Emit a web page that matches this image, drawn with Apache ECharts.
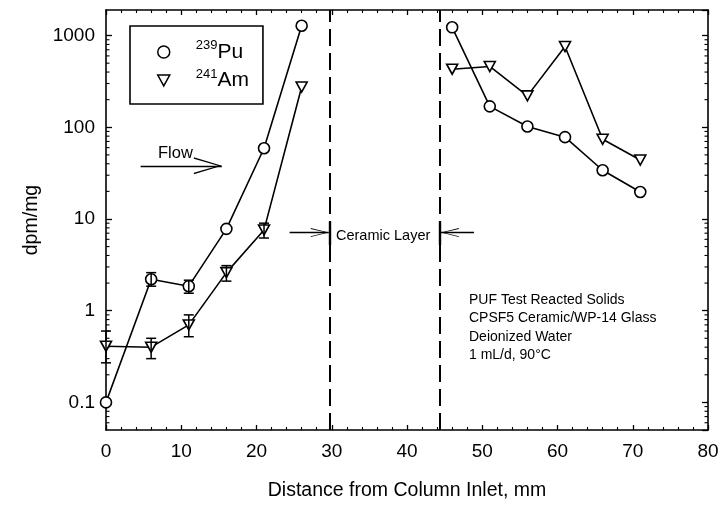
<!DOCTYPE html>
<html><head><meta charset="utf-8">
<script src="https://cdn.jsdelivr.net/npm/echarts@6/dist/echarts.min.js"></script>
<style>html,body{margin:0;padding:0;background:#fff}#c{width:726px;height:507px}</style>
</head><body><div id="c"></div>
<script>
// ---- data ----
const seriesNames = ['239Pu', '241Am'];
const puLeftX  = [0, 6, 11, 16, 21, 26];
const puLeftY  = [0.1, 2.2, 1.85, 7.8, 59, 1280];
const amLeftX  = [0, 6, 11, 16, 21, 26];
const amLeftY  = [0.41, 0.40, 0.70, 2.6, 7.6, 275];
const puRightX = [46, 51, 56, 61, 66, 71];
const puRightY = [1230, 169, 102, 78, 34, 19.7];
const amRightX = [46, 51, 56, 61, 66, 71];
const amRightY = [430, 460, 220, 760, 74, 44];
// error bars
const amErrX    = [0, 6, 11, 16, 21];
const amErrLow  = [0.27, 0.30, 0.52, 2.1, 6.2];
const amErrHigh = [0.60, 0.50, 0.90, 3.1, 9.0];
const puErrX    = [6, 11];
const puErrLow  = [1.85, 1.55];
const puErrHigh = [2.6, 2.15];
// ceramic layer boundaries (mm)
const ceramicBounds = [29.8, 44.3];
// tick labels
const xTickLabels = ['0','10','20','30','40','50','60','70','80'];
const yTickLabels = ['0.1','1','10','100','1000'];
const yMinorMultipliers = [2, 3, 4, 5, 6, 7, 8, 9];
const yDecades = [0.01, 0.1, 1, 10, 100, 1000];
const noteLines = ['PUF Test Reacted Solids','CPSF5 Ceramic/WP-14 Glass','Deionized Water','1 mL/d, 90°C'];

const FONT = '"Liberation Sans", Arial, sans-serif';
const Y_MIN = 0.05, Y_MAX = 1900;
const GAP_X = (puLeftX[puLeftX.length-1] + puRightX[0]) / 2;

function joinSeg(lx, ly, rx, ry) {
  const d = lx.map((x, i) => [x, ly[i]]);
  d.push([GAP_X, '-']);
  rx.forEach((x, i) => d.push([x, ry[i]]));
  return d;
}
const puData = joinSeg(puLeftX, puLeftY, puRightX, puRightY);
const amData = joinSeg(amLeftX, amLeftY, amRightX, amRightY);
const errData = amErrX.map((x, i) => [x, amErrLow[i], amErrHigh[i]])
  .concat(puErrX.map((x, i) => [x, puErrLow[i], puErrHigh[i]]));
// log-axis minor tick positions (axis decoration)
const minorTickData = [];
yDecades.forEach(d => yMinorMultipliers.forEach(m => {
  const v = +(d * m).toPrecision(6);
  if (v > Y_MIN && v < Y_MAX) minorTickData.push([0, v]);
}));

const triDown = 'path://M0,0 L10,0 L5,9 Z';
const headRight = 'path://M0,0 L100,50 L0,100 L0,91 L86,50 L0,9 Z';
const headLeft  = 'path://M100,0 L0,50 L100,100 L100,91 L14,50 L100,9 Z';

const chart = echarts.init(document.getElementById('c'), null, {renderer: 'canvas'});

const yLabelFmt = v => {
  const s = String(+(+v).toPrecision(6));
  return yTickLabels.includes(s) ? s : '';
};
const BLACK = '#000';
const axisLineStyle = {show: true, onZero: false, lineStyle: {color: BLACK, width: 1.6}};

const option = {
  backgroundColor: '#fff',
  animation: false,
  textStyle: {fontFamily: FONT},
  grid: {left: 106, right: 18, top: 10, bottom: 77},
  legend: {
    left: 130, top: 26, orient: 'vertical',
    borderColor: BLACK, borderWidth: 1.6,
    padding: [13, 14, 13, 27],
    itemGap: 5, itemWidth: 12, itemHeight: 12,
    data: [
      {name: seriesNames[0], icon: 'circle', itemStyle: {color: '#fff', borderColor: BLACK, borderWidth: 1.5}},
      {name: seriesNames[1], icon: triDown, itemStyle: {color: '#fff', borderColor: BLACK, borderWidth: 1.5}}
    ],
    formatter: n => '{s|' + n.slice(0, 3) + '}{b|' + n.slice(3) + '}',
    textStyle: {
      rich: {
        s: {fontSize: 13, fontFamily: FONT, color: BLACK, verticalAlign: 'top', padding: [0, 0, 0, 21], lineHeight: 26},
        b: {fontSize: 21, fontFamily: FONT, color: BLACK, lineHeight: 26}
      }
    }
  },
  xAxis: [{
    type: 'value', min: 0, max: 80, interval: 10,
    name: 'Distance from Column Inlet, mm', nameLocation: 'middle', nameGap: 51,
    nameTextStyle: {fontSize: 19.5, color: BLACK, fontFamily: FONT},
    axisLine: axisLineStyle,
    axisTick: {inside: true, length: 5, lineStyle: {color: BLACK, width: 1.3}},
    minorTick: {show: true, splitNumber: 5, length: 3, lineStyle: {color: BLACK, width: 1.1}},
    axisLabel: {fontSize: 19, color: BLACK, margin: 12, fontFamily: FONT,
      formatter: v => xTickLabels[Math.round(v / 10)] || ''},
    splitLine: {show: false}
  }, {
    type: 'value', min: 0, max: 80, interval: 10, position: 'top',
    axisLine: axisLineStyle,
    axisTick: {inside: true, length: 5, lineStyle: {color: BLACK, width: 1.3}},
    minorTick: {show: true, splitNumber: 5, length: 3, lineStyle: {color: BLACK, width: 1.1}},
    axisLabel: {show: false}, splitLine: {show: false}
  }],
  yAxis: [{
    type: 'log', min: Y_MIN, max: Y_MAX, logBase: 10, position: 'left',
    name: 'dpm/mg', nameLocation: 'middle', nameGap: 64,
    nameTextStyle: {fontSize: 19.5, color: BLACK, fontFamily: FONT},
    axisLine: axisLineStyle,
    axisTick: {inside: true, length: 6, lineStyle: {color: BLACK, width: 1.3}},
    minorTick: {show: false},
    axisLabel: {fontSize: 19, color: BLACK, margin: 11, fontFamily: FONT,
      showMinLabel: false, showMaxLabel: false, formatter: yLabelFmt},
    splitLine: {show: false}
  }, {
    type: 'log', min: Y_MIN, max: Y_MAX, logBase: 10, position: 'right',
    axisLine: axisLineStyle,
    axisTick: {inside: true, length: 6, lineStyle: {color: BLACK, width: 1.3}},
    minorTick: {show: false},
    axisLabel: {show: false}, splitLine: {show: false}
  }],
  series: [
    {
      name: 'minorTicks', type: 'custom', data: minorTickData, z: 2, silent: true,
      renderItem: (params, api) => {
        const cs = params.coordSys;
        const p = api.coord([0, api.value(1)]);
        const st = {stroke: BLACK, lineWidth: 1.1};
        return {type: 'group', children: [
          {type: 'line', shape: {x1: cs.x, y1: p[1], x2: cs.x + 3.5, y2: p[1]}, style: st},
          {type: 'line', shape: {x1: cs.x + cs.width - 3.5, y1: p[1], x2: cs.x + cs.width, y2: p[1]}, style: st}
        ]};
      }
    },
    {
      name: seriesNames[0], type: 'line', data: puData, connectNulls: false,
      symbol: 'circle', symbolSize: 11,
      itemStyle: {color: '#fff', borderColor: BLACK, borderWidth: 1.6},
      lineStyle: {color: BLACK, width: 1.6}, z: 3,
      markLine: {
        silent: true, symbol: 'none', label: {show: false},
        lineStyle: {color: BLACK, width: 2, type: [17, 7]},
        data: ceramicBounds.map(b => ({xAxis: b}))
      }
    },
    {
      name: seriesNames[1], type: 'line', data: amData, connectNulls: false,
      symbol: triDown, symbolSize: [11, 10],
      itemStyle: {color: '#fff', borderColor: BLACK, borderWidth: 1.6},
      lineStyle: {color: BLACK, width: 1.6}, z: 3
    },
    {
      name: 'err', type: 'custom', data: errData, z: 4,
      renderItem: (params, api) => {
        const x = api.value(0);
        const lo = api.coord([x, api.value(1)]);
        const hi = api.coord([x, api.value(2)]);
        const w = 5;
        const st = {stroke: BLACK, lineWidth: 1.5};
        return {type: 'group', children: [
          {type: 'line', shape: {x1: lo[0], y1: lo[1], x2: hi[0], y2: hi[1]}, style: st},
          {type: 'line', shape: {x1: lo[0]-w, y1: lo[1], x2: lo[0]+w, y2: lo[1]}, style: st},
          {type: 'line', shape: {x1: hi[0]-w, y1: hi[1], x2: hi[0]+w, y2: hi[1]}, style: st}
        ]};
      }
    },
    {
      // annotation arrows (Flow and Ceramic Layer)
      name: 'annot', type: 'line', data: [],
      markLine: {
        silent: true, symbol: 'none', label: {show: false},
        lineStyle: {color: BLACK, width: 1.4, type: 'solid'},
        data: [
          [{coord: [4.6, 38]}, {coord: [15.4, 38]}],
          [{coord: [24.4, 7.1]}, {coord: [29.6, 7.1]}],
          [{coord: [48.9, 7.1]}, {coord: [44.5, 7.1]}],
          [{coord: [ceramicBounds[0], 5.2], lineStyle: {width: 2.4}}, {coord: [ceramicBounds[0], 9.4]}],
          [{coord: [ceramicBounds[1], 5.2], lineStyle: {width: 2.4}}, {coord: [ceramicBounds[1], 9.4]}]
        ]
      },
      markPoint: {
        silent: true, label: {show: false},
        itemStyle: {color: BLACK},
        data: [
          {coord: [15.4, 38], symbol: headRight, symbolSize: [28, 17], symbolOffset: [-14, 0]},
          {coord: [29.6, 7.1], symbol: headRight, symbolSize: [18, 9], symbolOffset: [-9, 0]},
          {coord: [44.5, 7.1], symbol: headLeft, symbolSize: [18, 9], symbolOffset: [9, 0]}
        ]
      }
    }
  ],
  graphic: [
    {type: 'text', left: 158, top: 145, style: {text: 'Flow', fontSize: 16.5, fontFamily: FONT, fill: BLACK}},
    {type: 'text', left: 336, top: 228, style: {text: 'Ceramic Layer', fontSize: 14.5, fontFamily: FONT, fill: BLACK}},
    {type: 'text', left: 469, top: 291, style: {text: noteLines.join('\n'), fontSize: 14, lineHeight: 18.3, fontFamily: FONT, fill: BLACK}}
  ]
};
chart.setOption(option);
</script>
</body></html>
